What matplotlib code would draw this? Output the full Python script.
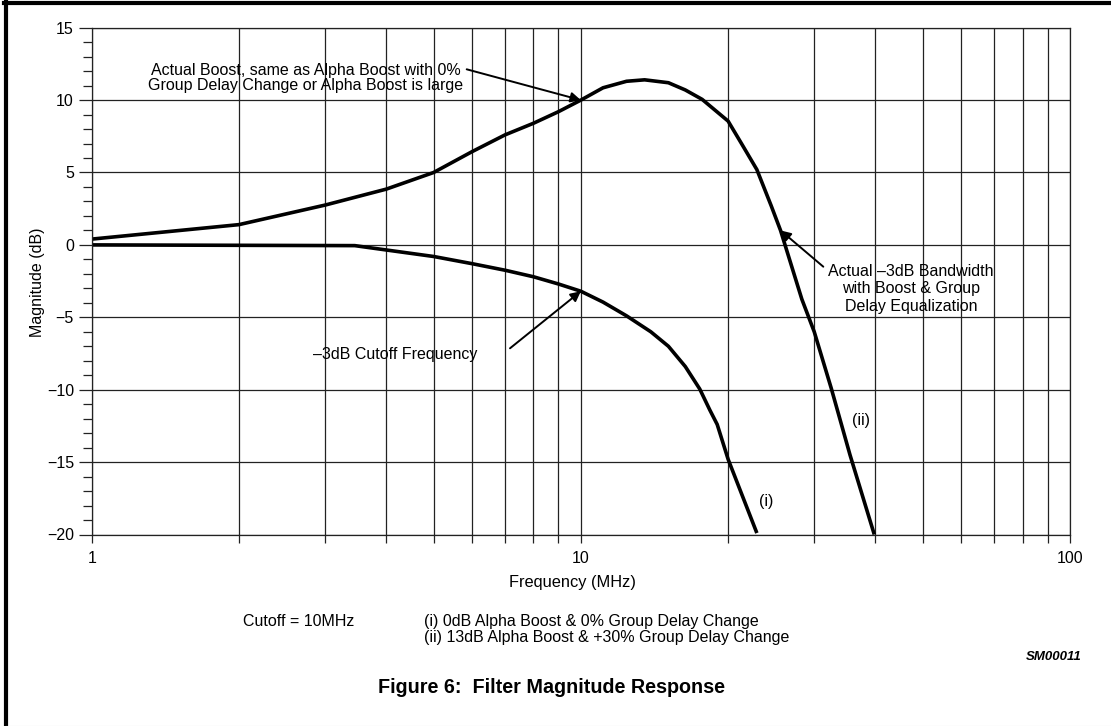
import matplotlib
matplotlib.use('Agg')
import matplotlib.pyplot as plt
from matplotlib.lines import Line2D
from matplotlib.ticker import FixedLocator, FixedFormatter, LogLocator, MultipleLocator, NullFormatter

plt.rcParams['font.family'] = ['Liberation Sans', 'DejaVu Sans']

# ---- data ----
# curve (i): 0dB Alpha Boost & 0% Group Delay Change
freq_i = [1, 3.45, 4, 5, 6, 7, 8, 9, 10, 11.1, 12.4, 13.9, 15.1, 16.35, 17.5, 18.35, 19.0, 20, 22.9]
mag_i = [0, -0.05, -0.35, -0.8, -1.3, -1.75, -2.2, -2.7, -3.2, -3.95, -4.9, -6.0, -7.0, -8.4,
         -9.95, -11.4, -12.4, -14.8, -19.9]

# curve (ii): 13dB Alpha Boost & +30% Group Delay Change
freq_ii = [1, 2, 3, 4, 5, 6, 7, 8, 9, 10, 11.1, 12.4, 13.5, 15.1, 16.35, 17.7, 20, 21.3, 22.9,
           24.5, 25.6, 28.3, 30, 32.5, 35.5, 39.8]
mag_ii = [0.4, 1.4, 2.75, 3.85, 5.0, 6.45, 7.6, 8.4, 9.2, 10.0, 10.85, 11.3, 11.4, 11.2, 10.7,
          10.05, 8.55, 7.0, 5.2, 2.7, 1.0, -3.75, -6.0, -9.9, -14.5, -20.0]

x_ticks = [1, 10, 100]
x_ticklabels = ['1', '10', '100']
y_major_step = 5
y_minor_step = 1

W, H = 1111, 726
fig = plt.figure(figsize=(W / 100, H / 100), dpi=100)
fig.patch.set_facecolor('white')


def fx(p):
    return p / W


def fy(p):
    return 1 - p / H


ax_l, ax_r, ax_t, ax_b = 91.7, 1070, 27.7, 534.5
ax = fig.add_axes([fx(ax_l), fy(ax_b), fx(ax_r) - fx(ax_l), fy(ax_t) - fy(ax_b)])
ax.set_xscale('log')
ax.set_xlim(1, 100)
ax.set_ylim(-20, 15)

ax.xaxis.set_major_locator(FixedLocator(x_ticks))
ax.xaxis.set_major_formatter(FixedFormatter(x_ticklabels))
ax.xaxis.set_minor_locator(LogLocator(base=10, subs=range(2, 10)))
ax.xaxis.set_minor_formatter(NullFormatter())
ax.yaxis.set_major_locator(MultipleLocator(y_major_step))
ax.yaxis.set_minor_locator(MultipleLocator(y_minor_step))

gc = '#222222'
ax.grid(which='both', axis='x', color=gc, lw=0.9)
ax.grid(which='major', axis='y', color=gc, lw=0.9)
ax.tick_params(axis='x', which='both', direction='out', length=6, width=0.9, color=gc,
               pad=6.0, labelsize=11.5)
ax.tick_params(axis='y', which='major', direction='out', length=9.4, width=0.9, color=gc,
               pad=3.4, labelsize=11.5)
ax.tick_params(axis='y', which='minor', direction='out', length=6.5, width=0.9, color=gc)
for s in ax.spines.values():
    s.set_color(gc)
    s.set_linewidth(0.9)

ax.plot(freq_i, mag_i, color='black', lw=2.6, solid_joinstyle='round', solid_capstyle='butt')
ax.plot(freq_ii, mag_ii, color='black', lw=2.6, solid_joinstyle='round', solid_capstyle='butt')

fs = 11.5
arrow = dict(arrowstyle='-|>', color='black', lw=1.4, mutation_scale=15, shrinkA=0, shrinkB=0)


def axfrac(px, py):
    return ((px - ax_l) / (ax_r - ax_l), (ax_b - py) / (ax_b - ax_t))


# annotation 1
fig.text(fx(305.5), fy(75), 'Actual Boost, same as Alpha Boost with 0%', ha='center', va='baseline', fontsize=fs)
fig.text(fx(305.5), fy(90), 'Group Delay Change or Alpha Boost is large', ha='center', va='baseline', fontsize=fs)
ax.annotate('', xy=(10, 10), xycoords='data', xytext=axfrac(466.7, 69.3), textcoords='axes fraction',
            arrowprops=arrow)

# annotation 2
fig.text(fx(313.3), fy(359.3), '–3dB Cutoff Frequency', ha='left', va='baseline', fontsize=fs)
ax.annotate('', xy=(10, -3.2), xycoords='data', xytext=axfrac(510, 348.3), textcoords='axes fraction',
            arrowprops=arrow)

# annotation 3
for txt, yb in [('Actual –3dB Bandwidth', 275.7), ('with Boost & Group', 293.3), ('Delay Equalization', 311)]:
    fig.text(fx(911), fy(yb), txt, ha='center', va='baseline', fontsize=fs)
ax.annotate('', xy=(25.6, 1.0), xycoords='data', xytext=axfrac(823.3, 266.7), textcoords='axes fraction',
            arrowprops=arrow)

# curve labels
ax.text(23.9, -17.75, '(i)', ha='center', va='center', fontsize=fs)
ax.text(37.3, -12.1, '(ii)', ha='center', va='center', fontsize=fs)

# axis labels
fig.text(fx(572), fy(582), 'Frequency (MHz)', ha='center', va='center', fontsize=fs + 0.3)
fig.text(fx(37.5), fy(282), 'Magnitude (dB)', ha='center', va='center', rotation=90, fontsize=fs)

# notes
fig.text(fx(242.7), fy(626), 'Cutoff = 10MHz', ha='left', va='baseline', fontsize=fs)
fig.text(fx(424), fy(626), '(i) 0dB Alpha Boost & 0% Group Delay Change', ha='left', va='baseline', fontsize=fs)
fig.text(fx(424), fy(641.7), '(ii) 13dB Alpha Boost & +30% Group Delay Change', ha='left', va='baseline', fontsize=fs)
fig.text(fx(1082), fy(660), 'SM00011', ha='right', va='baseline', fontsize=9.5, fontweight='bold', style='italic')
fig.text(fx(551.5), fy(693.3), 'Figure 6:  Filter Magnitude Response', ha='center', va='baseline',
         fontsize=14.2, fontweight='bold')

# page frame
fig.add_artist(Line2D([fx(4), 1], [fy(3.4), fy(3.4)], transform=fig.transFigure, color='black', lw=3.0))
fig.add_artist(Line2D([fx(5.8), fx(5.8)], [fy(2), 0], transform=fig.transFigure, color='black', lw=3.0))
fig.add_artist(Line2D([fx(5.8), 1], [fy(725.5), fy(725.5)], transform=fig.transFigure, color='#cccccc', lw=0.8))

fig.savefig('out.png', dpi=100)
